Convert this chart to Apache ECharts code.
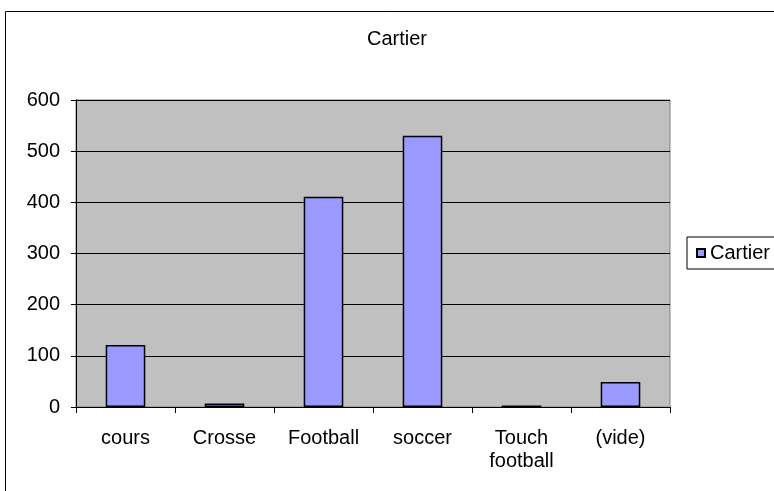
<!DOCTYPE html>
<html>
<head>
<meta charset="utf-8">
<script src="https://cdn.jsdelivr.net/npm/echarts@6/dist/echarts.min.js"></script>
<style>
html,body{margin:0;padding:0;background:#fff;}
#c{width:774px;height:491px;}
</style>
</head>
<body>
<div id="c"></div>
<script>
const categories = ["cours", "Crosse", "Football", "soccer", "Touch\nfootball", "(vide)"];
const values = [121, 7, 411, 530, 3, 49];
const seriesName = "Cartier";
const titleText = "Cartier";
const yTicks = [0, 100, 200, 300, 400, 500, 600];

const chart = echarts.init(document.getElementById('c'), null, {renderer: 'canvas'});
const font = "Liberation Sans";
chart.setOption({
  animation: false,
  backgroundColor: '#fff',
  textStyle: {fontFamily: font},
  title: {
    text: titleText, left: 397, top: 29, textAlign: 'center', padding: 0,
    textStyle: {fontFamily: font, fontSize: 20, fontWeight: 'normal', color: '#000', lineHeight: 20}
  },
  graphic: [{
    type: 'rect', shape: {x: 5.5, y: 11.5, width: 800, height: 500},
    style: {fill: 'none', stroke: '#000', lineWidth: 1}, z: -1, silent: true
  }],
  legend: {
    left: 687, top: 237, orient: 'vertical',
    borderColor: '#000', borderWidth: 1, padding: [6, 30, 6, 9],
    itemWidth: 8, itemHeight: 8, itemGap: 5,
    icon: 'rect',
    textStyle: {fontFamily: font, fontSize: 20, color: '#000', lineHeight: 20},
    data: [seriesName]
  },
  grid: {
    left: 76, right: 104, top: 100, bottom: 84, show: true,
    backgroundColor: '#C0C0C0', borderColor: '#808080', borderWidth: 1
  },
  xAxis: {
    type: 'category', data: categories,
    axisLine: {lineStyle: {color: '#000', width: 1}},
    axisTick: {show: true, length: 6, lineStyle: {color: '#000'}},
    axisLabel: {color: '#000', fontSize: 20, fontFamily: font, margin: 20, lineHeight: 23, interval: 0}
  },
  yAxis: {
    type: 'value', min: 0, max: 600, interval: 100,
    axisLine: {show: true, lineStyle: {color: '#000', width: 1}},
    axisTick: {show: true, length: 5, lineStyle: {color: '#000'}},
    axisLabel: {color: '#000', fontSize: 20, fontFamily: font, margin: 16,
      formatter: v => yTicks.includes(v) ? String(v) : ''},
    splitLine: {show: true, lineStyle: {color: '#000', width: 1}}
  },
  series: [{
    name: seriesName, type: 'bar', data: values,
    barWidth: '40%',
    itemStyle: {color: '#9999FF', borderColor: '#000', borderWidth: 1.5}
  }]
});
</script>
</body>
</html>
